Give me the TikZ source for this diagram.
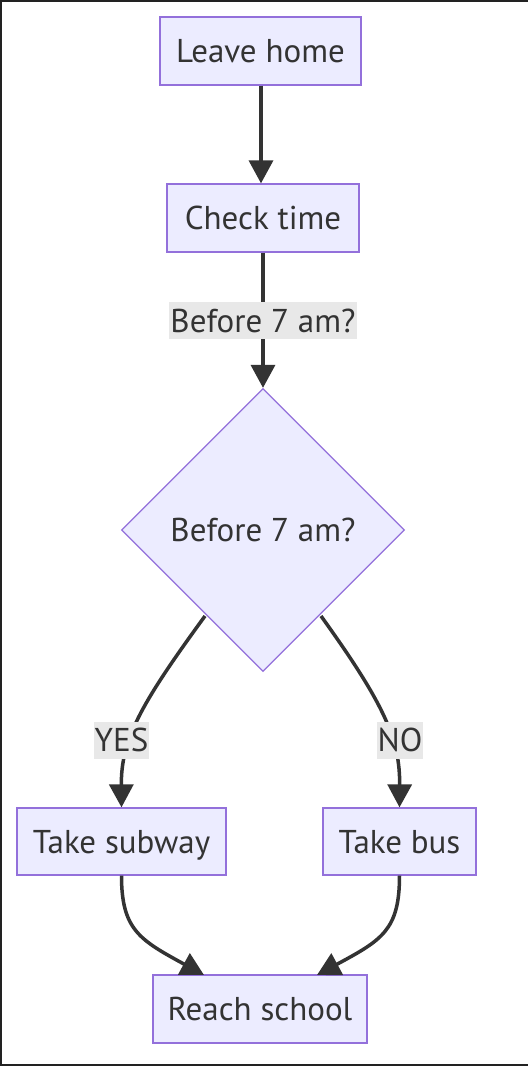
\documentclass[tikz,border=0pt]{standalone}
\usepackage{fontspec}
\setmainfont{PT Sans}
\usetikzlibrary{arrows.meta,shapes.geometric}
\definecolor{nodefill}{HTML}{ECECFF}
\definecolor{nodeline}{HTML}{9370DB}
\definecolor{ink}{HTML}{333333}
\definecolor{labelbg}{HTML}{E8E8E8}
\definecolor{frame}{HTML}{222222}
\tikzset{
  txt/.style={text=ink, font=\fontsize{33}{40}\selectfont, text height=23pt, text depth=0pt},
  flowbox/.style={txt, draw=nodeline, fill=nodefill, line width=1.3pt,
    minimum height=68pt, inner sep=0pt},
  decision/.style={txt, draw=nodeline, fill=nodefill, line width=1.3pt,
    diamond, minimum width=283pt, minimum height=283pt, inner sep=0pt},
  edgelabel/.style={txt, fill=labelbg, minimum height=37pt, inner xsep=1pt, inner ysep=0pt},
  flow/.style={draw=ink, line width=3.5pt, -{Triangle[length=23pt,width=24pt]}},
}
\begin{document}
\begin{tikzpicture}[x=1pt,y=-1pt]
\useasboundingbox (0,0) rectangle (528,1066);
\fill[white] (0,0) rectangle (528,1066);
\fill[frame] (0,0) rectangle (528,2);
\fill[frame] (0,0) rectangle (2,1066);
\fill[frame] (0,1064) rectangle (528,1066);

\node[flowbox, minimum width=201pt] (home) at (260.5,51) {Leave home};
\node[flowbox, minimum width=192pt] (check) at (263,218) {Check time};
\node[decision] (dec) at (263,530) {Before 7 am?};
\node[flowbox, minimum width=209pt, minimum height=67pt] (subway) at (121.5,841.5) {Take subway};
\node[flowbox, minimum width=153pt, minimum height=67pt] (bus) at (399.5,841.5) {Take bus};
\node[flowbox, minimum width=214pt] (school) at (260,1009) {Reach school};

\draw[flow] (home.south -| 261,0) -- (check.north -| 261,0);
\draw[flow] (check.south) -- (dec.north);
\node[edgelabel] (l1) at (263,320.5) {Before 7 am?};

\coordinate (yesstart) at (205,616);
\coordinate (nostart) at (321,616);
\draw[flow] (yesstart) .. controls (140,705) and (121,740) .. (subway.north);
\draw[flow] (nostart) .. controls (385,705) and (400,740) .. (bus.north);
\node[edgelabel] (lyes) at (121.5,740) {YES};
\node[edgelabel] (lno) at (400,740) {NO};

\coordinate (s1) at (204,975);
\coordinate (s2) at (317,975);
\draw[flow] (subway.south) .. controls (121.5,930) and (140,940) .. (s1);
\draw[flow] (bus.south) .. controls (399.5,930) and (382,940) .. (s2);
\end{tikzpicture}
\end{document}
